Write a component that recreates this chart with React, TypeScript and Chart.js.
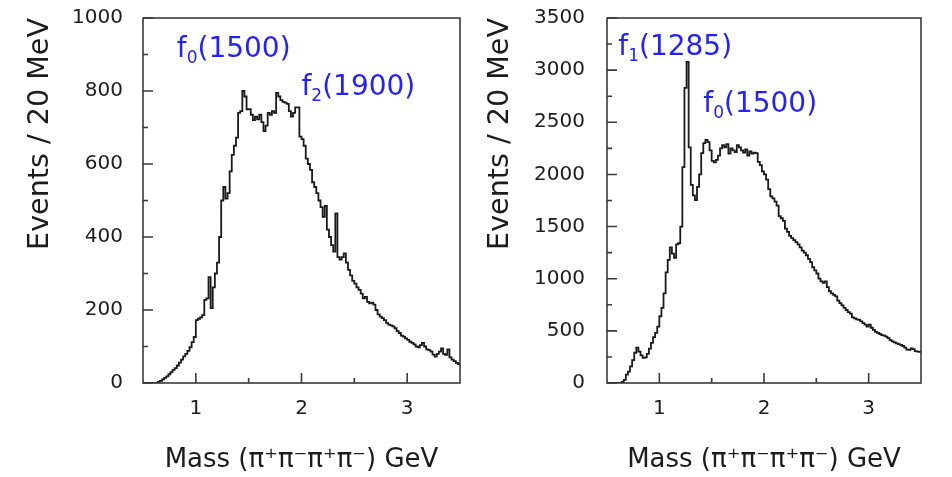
import React, { useEffect, useRef } from 'react';
import { Chart, registerables } from 'chart.js';

Chart.register(...registerables);

// ---------- data ----------
const binStart = 0.5; // GeV, first bin edge
const binWidth = 0.02; // 20 MeV bins
const xMin = 0.5;
const xMax = 3.5;
const xMajorTicks = [1, 2, 3];
const xMinorTicks = [1.5, 2.5];

// Left panel: events per 20 MeV bin, from 0.50 to 3.50 GeV
const leftCounts = [
  0, 0, 0, 0, 0, 0, 0, 3, 6, 10,
  14, 18, 24, 30, 36, 41, 48, 56, 64, 73,
  80, 88, 98, 112, 126, 172, 176, 180, 186, 228,
  232, 290, 205, 262, 300, 330, 400, 500, 537, 505,
  520, 580, 625, 650, 672, 740, 745, 800, 785, 750,
  750, 735, 720, 730, 722, 735, 715, 690, 705, 740,
  735, 745, 740, 795, 785, 775, 770, 768, 765, 745,
  730, 740, 755, 755, 675, 668, 650, 615, 600, 584,
  550, 537, 520, 500, 482, 455, 485, 420, 400, 378,
  360, 465, 345, 338, 345, 355, 330, 310, 295, 280,
  272, 262, 255, 245, 232, 236, 222, 218, 220, 215,
  200, 188, 182, 178, 172, 165, 160, 158, 155, 150,
  142, 137, 130, 127, 122, 118, 113, 110, 106, 100,
  98, 104, 110, 100, 92, 90, 86, 78, 72, 80,
  86, 95, 80, 77, 92, 70, 64, 60, 55, 52,
];

// Right panel: events per 20 MeV bin, from 0.50 to 3.50 GeV
const rightCounts = [
  0, 0, 0, 0, 0, 0, 0, 10, 30, 80,
  110, 160, 220, 290, 340, 300, 265, 240, 245, 280,
  330, 385, 440, 480, 540, 640, 720, 860, 1060, 1180,
  1300, 1240, 1200, 1330, 1340, 1500, 2070, 2830, 3080, 2260,
  1900, 1800, 1755, 1880, 2000, 2205, 2300, 2330, 2310, 2230,
  2130, 2115, 2140, 2180, 2250, 2280, 2260, 2290, 2200, 2250,
  2230, 2215, 2280, 2260, 2230, 2210, 2240, 2180, 2220, 2200,
  2210, 2205, 2120, 2090, 2030, 2000, 1950, 1860, 1790, 1770,
  1740, 1700, 1600, 1580, 1555, 1480, 1450, 1410, 1390, 1370,
  1350, 1330, 1300, 1270, 1250, 1225, 1190, 1160, 1110, 1080,
  1050, 1000, 975, 960, 975, 920, 880, 860, 845, 830,
  790, 765, 745, 720, 700, 680, 665, 630, 620, 610,
  605, 590, 575, 560, 540, 560, 530, 510, 490, 480,
  470, 460, 455, 445, 430, 412, 400, 390, 380, 372,
  365, 355, 340, 320, 318, 332, 325, 305, 300, 298,
];

const leftYMajor = [0, 200, 400, 600, 800, 1000];
const leftYMinor = [100, 300, 500, 700, 900];
const rightYMajor = [0, 500, 1000, 1500, 2000, 2500, 3000, 3500];
const rightYMinor = [250, 750, 1250, 1750, 2250, 2750, 3250];

const yTitle = 'Events / 20 MeV';
const xTitle = 'Mass (\u03c0\u207a\u03c0\u207b\u03c0\u207a\u03c0\u207b) GeV';

// resonance labels (anchor in data units of each panel)
const leftLabels = [
  { main: 'f', sub: '0', rest: '(1500)', x: 0.82, y: 893 },
  { main: 'f', sub: '2', rest: '(1900)', x: 2.0, y: 789 },
];
const rightLabels = [
  { main: 'f', sub: '1', rest: '(1285)', x: 0.608, y: 3145 },
  { main: 'f', sub: '0', rest: '(1500)', x: 1.42, y: 2599 },
];

// ---------- styling ----------
const FONT = '"DejaVu Sans", "Liberation Sans", sans-serif';
const TEXT = '#1c1c1c';
const BLUE = 'rgb(35,35,245)';

const decorPlugin = {
  id: 'decor',
  afterDatasetsDraw(chart: any, _args: any, opts: any) {
    const { ctx, chartArea: a } = chart;
    const xs = chart.scales.x;
    const ys = chart.scales.y;
    ctx.save();
    ctx.strokeStyle = '#3a3a3a';
    ctx.lineWidth = 1.6;
    ctx.strokeRect(a.left, a.top, a.right - a.left, a.bottom - a.top);
    ctx.beginPath();
    for (const v of opts.yMajor) {
      const p = ys.getPixelForValue(v);
      ctx.moveTo(a.left, p);
      ctx.lineTo(a.left + 10, p);
    }
    for (const v of opts.yMinor) {
      const p = ys.getPixelForValue(v);
      ctx.moveTo(a.left, p);
      ctx.lineTo(a.left + 5, p);
    }
    for (const v of xMajorTicks) {
      const p = xs.getPixelForValue(v);
      ctx.moveTo(p, a.bottom);
      ctx.lineTo(p, a.bottom - 10);
    }
    for (const v of xMinorTicks) {
      const p = xs.getPixelForValue(v);
      ctx.moveTo(p, a.bottom);
      ctx.lineTo(p, a.bottom - 5);
    }
    ctx.stroke();

    ctx.fillStyle = BLUE;
    ctx.textAlign = 'left';
    ctx.textBaseline = 'alphabetic';
    for (const l of opts.labels) {
      let px = xs.getPixelForValue(l.x);
      const py = ys.getPixelForValue(l.y);
      ctx.font = `28px ${FONT}`;
      ctx.fillText(l.main, px, py);
      px += ctx.measureText(l.main).width;
      ctx.font = `17px ${FONT}`;
      ctx.fillText(l.sub, px, py + 6);
      px += ctx.measureText(l.sub).width;
      ctx.font = `28px ${FONT}`;
      ctx.fillText(l.rest, px, py);
    }
    ctx.restore();
  },
};

type PanelProps = {
  left: number;
  width: number;
  counts: number[];
  yMax: number;
  yMajor: number[];
  yMinor: number[];
  labels: any[];
  axisWidth: number;
  padRight: number;
  yTickPad: number;
  yTitlePad: number;
};

function Panel(p: PanelProps) {
  const ref = useRef<HTMLCanvasElement | null>(null);
  useEffect(() => {
    if (!ref.current) return;
    const pts = p.counts.map((c, i) => ({ x: binStart + i * binWidth, y: c }));
    pts.push({ x: binStart + p.counts.length * binWidth, y: p.counts[p.counts.length - 1] });
    const chart = new Chart(ref.current, {
      type: 'line',
      data: {
        datasets: [
          {
            data: pts,
            stepped: true,
            borderColor: '#1a1a1a',
            borderWidth: 1.8,
            pointRadius: 0,
            fill: false,
          },
        ],
      },
      options: {
        animation: false,
        responsive: false,
        layout: { padding: { left: 0, right: p.padRight, top: 18, bottom: 0 } },
        plugins: {
          legend: { display: false },
          tooltip: { enabled: false },
          decor: { yMajor: p.yMajor, yMinor: p.yMinor, labels: p.labels },
        } as any,
        scales: {
          x: {
            type: 'linear',
            min: xMin,
            max: xMax,
            grid: { display: false, drawTicks: false },
            border: { display: false },
            afterBuildTicks: (s: any) => {
              s.ticks = xMajorTicks.map((v) => ({ value: v }));
            },
            afterFit: (s: any) => {
              s.height = 94;
              s.paddingLeft = 0;
              s.paddingRight = 0;
            },
            ticks: {
              color: TEXT,
              font: { family: FONT, size: 20 },
              padding: 14,
              maxRotation: 0,
              autoSkip: false,
              callback: (v: any) => String(v),
            },
            title: {
              display: true,
              text: xTitle,
              color: TEXT,
              font: { family: FONT, size: 26 },
              padding: { top: 0, bottom: 1 },
            },
          },
          y: {
            type: 'linear',
            min: 0,
            max: p.yMax,
            grid: { display: false, drawTicks: false },
            border: { display: false },
            afterBuildTicks: (s: any) => {
              s.ticks = p.yMajor.map((v) => ({ value: v }));
            },
            afterFit: (s: any) => {
              s.width = p.axisWidth;
              s.paddingTop = 0;
              s.paddingBottom = 0;
            },
            ticks: {
              color: TEXT,
              font: { family: FONT, size: 20 },
              padding: p.yTickPad,
              autoSkip: false,
              callback: (v: any) => String(v),
            },
            title: {
              display: true,
              text: yTitle,
              align: 'end',
              color: TEXT,
              font: { family: FONT, size: 28.6 },
              padding: { top: p.yTitlePad, bottom: 0 },
            },
          },
        },
      } as any,
      plugins: [decorPlugin as any],
    });
    return () => chart.destroy();
  }, []);
  return (
    <canvas
      ref={ref}
      width={p.width}
      height={477}
      style={{ position: 'absolute', left: p.left, top: 0, width: p.width, height: 477 }}
    />
  );
}

export default function App() {
  return (
    <div style={{ position: 'fixed', left: 0, top: 0, width: 952, height: 477, background: '#fff' }}>
      <Panel
        left={0}
        width={476}
        counts={leftCounts}
        yMax={1000}
        yMajor={leftYMajor}
        yMinor={leftYMinor}
        labels={leftLabels}
        axisWidth={143}
        padRight={16}
        yTickPad={20}
        yTitlePad={23}
      />
      <Panel
        left={476}
        width={476}
        counts={rightCounts}
        yMax={3500}
        yMajor={rightYMajor}
        yMinor={rightYMinor}
        labels={rightLabels}
        axisWidth={131}
        padRight={31}
        yTickPad={22}
        yTitlePad={7}
      />
    </div>
  );
}
